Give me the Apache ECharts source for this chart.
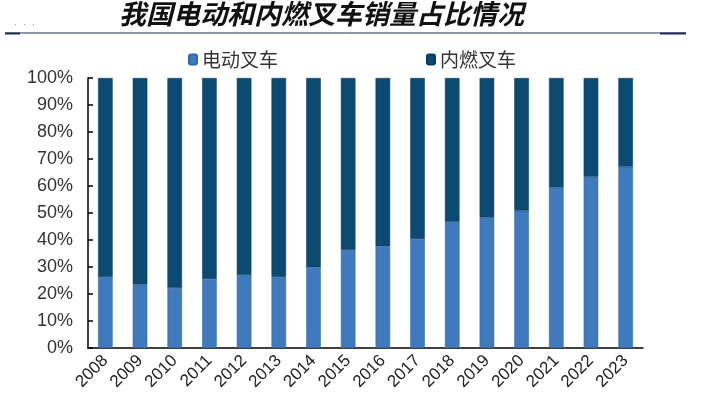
<!DOCTYPE html>
<html>
<head>
<meta charset="utf-8">
<script src="https://cdn.jsdelivr.net/npm/echarts@6/dist/echarts.min.js"></script>
<style>html,body{margin:0;padding:0;background:#fff}#c{width:715px;height:411px}</style>
</head>
<body>
<div id="c"></div>
<script>
var years = ['2008','2009','2010','2011','2012','2013','2014','2015','2016','2017','2018','2019','2020','2021','2022','2023'];
var electric = [26.3, 23.5, 22.2, 25.6, 27.0, 26.3, 29.9, 36.3, 37.7, 40.4, 46.8, 48.3, 50.8, 59.4, 63.4, 67.1];
var combustion = electric.map(function(v){ return +(100 - v).toFixed(1); });
var yTicks = [0, 10, 20, 30, 40, 50, 60, 70, 80, 90, 100];
var seriesNames = ['电动叉车', '内燃叉车'];
var titleText = '我国电动和内燃叉车销量占比情况';

var chart = echarts.init(document.getElementById('c'));
var font = 'Arial, "Liberation Sans", sans-serif';
chart.setOption({
  animation: false,
  backgroundColor: '#fff',
  grid: {left: 88, right: 72, top: 78, bottom: 63},
  legend: {
    top: 45, left: 183, itemGap: 148,
    itemWidth: 8, itemHeight: 10,
    textStyle: {fontSize: 19, color: '#333', fontFamily: '"Noto Sans CJK SC", sans-serif'},
    data: seriesNames
  },
  graphic: [
    {type: 'text', left: 119, top: 0, style: {text: titleText, fontSize: 27, fontWeight: 'bold', fontStyle: 'italic', fill: '#111', fontFamily: '"Noto Sans CJK SC", serif'}},
    {type: 'line', shape: {x1: 5, y1: 33, x2: 686, y2: 33}, style: {stroke: '#1F2D4F', lineWidth: 1}},
    {type: 'line', shape: {x1: 5, y1: 33.5, x2: 20, y2: 33.5}, style: {stroke: '#1F2D4F', lineWidth: 2}},
    {type: 'line', shape: {x1: 660, y1: 33.5, x2: 686, y2: 33.5}, style: {stroke: '#1F2D4F', lineWidth: 2}},
    {type: 'text', left: 14, top: 20, style: {text: '·  ·  ·', fontSize: 10, fill: '#999'}}
  ],
  xAxis: {
    type: 'category', data: years,
    axisLine: {lineStyle: {color: '#000', width: 1.5}},
    axisTick: {inside: true, length: 5, lineStyle: {color: '#000', width: 1.5}},
    axisLabel: {rotate: 45, fontSize: 17, color: '#222', fontFamily: font, margin: 10, interval: 0}
  },
  yAxis: {
    type: 'value', min: 0, max: 100, interval: 10,
    axisLine: {show: true, lineStyle: {color: '#000', width: 1.5}},
    axisTick: {show: true, inside: true, length: 5, lineStyle: {color: '#000', width: 1.5}},
    splitLine: {show: false},
    axisLabel: {fontSize: 18, color: '#333', fontFamily: font, margin: 15, formatter: '{value}%'}
  },
  series: [
    {name: seriesNames[0], type: 'bar', stack: 's', data: electric, barWidth: '42%',
     itemStyle: {color: '#4179BD', borderColor: '#2F66A8', borderWidth: 0.5}},
    {name: seriesNames[1], type: 'bar', stack: 's', data: combustion, barWidth: '42%',
     itemStyle: {color: '#0C4A71', borderColor: '#083A5C', borderWidth: 0.5}}
  ]
});
</script>
</body>
</html>
